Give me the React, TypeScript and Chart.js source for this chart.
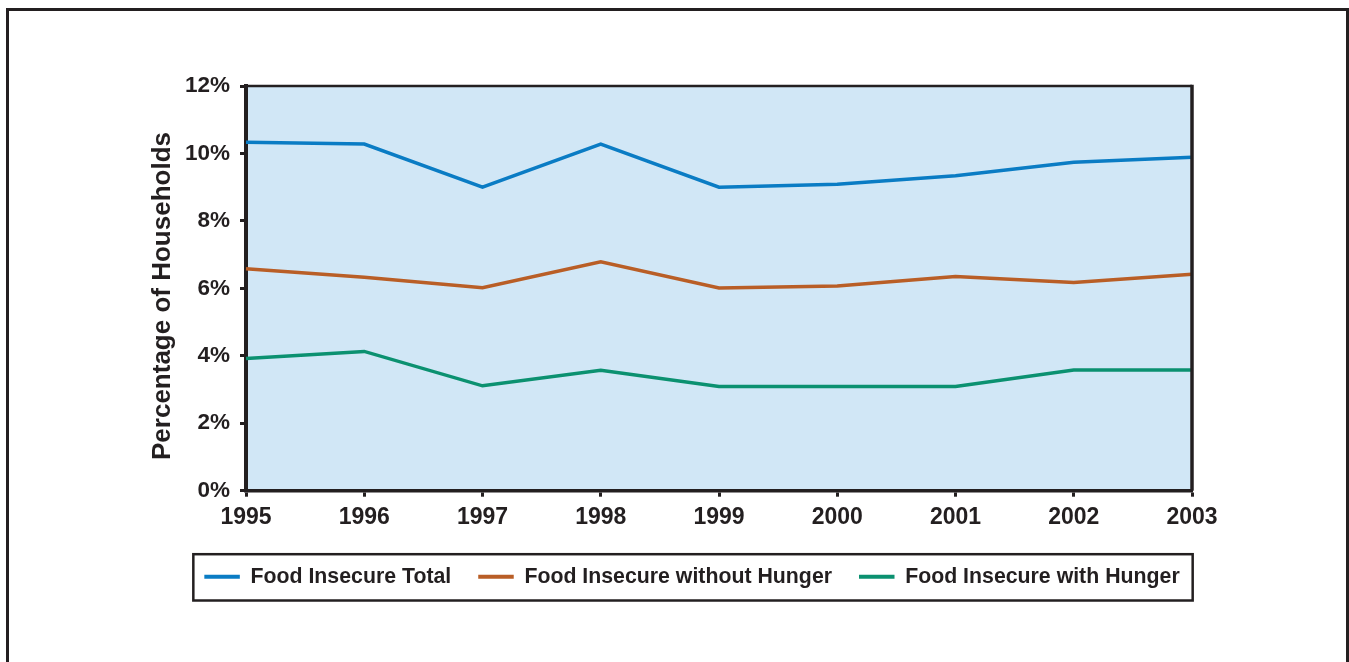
import React, { useEffect, useRef } from "react";
import { Chart, registerables } from "chart.js";

Chart.register(...registerables);

const years = ["1995", "1996", "1997", "1998", "1999", "2000", "2001", "2002", "2003"];
const totalInsecure = [10.33, 10.28, 9.0, 10.28, 9.0, 9.09, 9.34, 9.74, 9.89];
const withoutHunger = [6.58, 6.33, 6.02, 6.79, 6.01, 6.07, 6.35, 6.17, 6.42];
const withHunger = [3.92, 4.13, 3.11, 3.57, 3.09, 3.09, 3.09, 3.58, 3.58];
const seriesNames = ["Food Insecure Total", "Food Insecure without Hunger", "Food Insecure with Hunger"];
const seriesColors = ["#0a7cc4", "#b95e26", "#0b9170"];
const yAxisTitle = "Percentage of Households";

const INK = "#231f20";
const FONT = "'Liberation Sans', Arial, Helvetica, sans-serif";

const decorPlugin = {
  id: "decor",
  beforeDraw(chart: any) {
    const { ctx, chartArea: a } = chart;
    ctx.save();
    ctx.fillStyle = "#d1e7f6";
    ctx.fillRect(a.left, a.top, a.right - a.left, a.bottom - a.top);
    ctx.restore();
  },
  afterDraw(chart: any) {
    const { ctx, chartArea: a } = chart;
    ctx.save();
    ctx.strokeStyle = INK;
    ctx.lineWidth = 2.5;
    ctx.beginPath();
    ctx.moveTo(a.left, a.top);
    ctx.lineTo(a.right, a.top);
    ctx.stroke();
    ctx.lineWidth = 3.5;
    ctx.beginPath();
    ctx.moveTo(a.right, a.top - 1.25);
    ctx.lineTo(a.right, a.bottom);
    ctx.stroke();
    // y axis title
    ctx.translate(170, 296);
    ctx.rotate(-Math.PI / 2);
    ctx.fillStyle = INK;
    ctx.font = `bold 26px ${FONT}`;
    ctx.textAlign = "center";
    ctx.textBaseline = "alphabetic";
    ctx.fillText(yAxisTitle, 0, 0);
    ctx.restore();
    // legend frame
    const boxes = chart.legend && chart.legend.legendHitBoxes;
    if (boxes && boxes.length) {
      let l = Infinity, r = -Infinity, t = Infinity, b = -Infinity;
      for (const h of boxes) {
        l = Math.min(l, h.left);
        r = Math.max(r, h.left + h.width);
        t = Math.min(t, h.top);
        b = Math.max(b, h.top + h.height);
      }
      ctx.save();
      ctx.strokeStyle = INK;
      ctx.lineWidth = 2.5;
      ctx.strokeRect(l - 11, t - 12, r - l + 24, b - t + 25);
      ctx.restore();
    }
  },
};

export default function App() {
  const ref = useRef<HTMLCanvasElement | null>(null);

  useEffect(() => {
    if (!ref.current) return;
    const series = [totalInsecure, withoutHunger, withHunger];
    const chart = new Chart(ref.current, {
      type: "line",
      data: {
        labels: years,
        datasets: series.map((d, i) => ({
          label: seriesNames[i],
          data: d,
          borderColor: seriesColors[i],
          backgroundColor: seriesColors[i],
          borderWidth: 3.5,
          pointRadius: 0,
          tension: 0,
          fill: false,
          yAxisID: "y",
        })),
      },
      options: {
        animation: false,
        responsive: false,
        devicePixelRatio: 1,
        layout: { padding: { left: 150, right: 115, top: 86, bottom: 64.5 } },
        plugins: {
          title: { display: false },
          tooltip: { enabled: false },
          legend: {
            position: "bottom",
            labels: {
              color: INK,
              font: { family: FONT, size: 21.3, weight: "bold" },
              boxWidth: 35.5,
              boxHeight: 4,
              padding: 27,
              generateLabels: (c: any) =>
                c.data.datasets.map((ds: any, i: number) => ({
                  text: ds.label,
                  fillStyle: seriesColors[i],
                  strokeStyle: seriesColors[i],
                  lineWidth: 0,
                  hidden: false,
                  datasetIndex: i,
                  fontColor: INK,
                })),
            },
          },
        },
        scales: {
          x: {
            type: "category",
            offset: false,
            afterFit: (s: any) => {
              s.height = 48.5;
            },
            grid: {
              drawOnChartArea: false,
              drawTicks: true,
              tickLength: 6,
              tickWidth: 3,
              tickColor: INK,
            },
            border: { display: true, color: INK, width: 3.5 },
            ticks: {
              color: INK,
              padding: 7,
              maxRotation: 0,
              autoSkip: false,
              font: { family: FONT, size: 23, weight: "bold" },
            },
          },
          y: {
            min: 0,
            max: 12,
            afterFit: (s: any) => {
              s.width = 96;
            },
            grid: {
              drawOnChartArea: false,
              drawTicks: true,
              tickLength: 6,
              tickWidth: 3,
              tickColor: INK,
            },
            border: { display: true, color: INK, width: 4 },
            ticks: {
              stepSize: 2,
              color: INK,
              padding: 10,
              font: { family: FONT, size: 22.5, weight: "bold" },
              callback: (v: any) => `${v}%`,
            },
          },
          ySpacer: {
            position: "right",
            display: true,
            afterFit: (s: any) => {
              s.width = 42;
            },
            grid: { display: false, drawTicks: false },
            border: { display: false },
            ticks: { display: false },
          },
        },
      },
      plugins: [decorPlugin],
    });
    return () => chart.destroy();
  }, []);

  return (
    <div>
      <div
        style={{
          position: "fixed",
          left: 6,
          top: 8,
          width: 1343,
          height: 680,
          boxSizing: "border-box",
          border: `3px solid ${INK}`,
          borderBottom: "none",
          background: "#fff",
        }}
      />
      <canvas
        ref={ref}
        width={1349}
        height={662}
        style={{ position: "fixed", left: 0, top: 0, width: 1349, height: 662 }}
      />
    </div>
  );
}
